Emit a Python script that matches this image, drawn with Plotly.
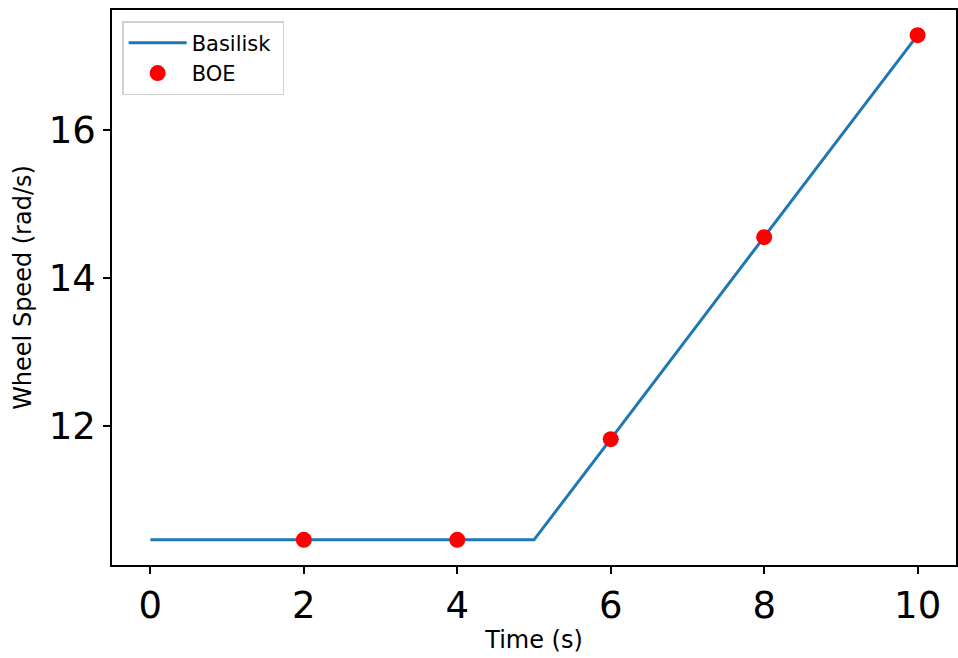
import plotly.graph_objects as go

# Data
basilisk_time = [0, 1, 2, 3, 4, 5, 6, 7, 8, 9, 10]
basilisk_speed = [10.46, 10.46, 10.46, 10.46, 10.46, 10.46, 11.82, 13.19, 14.55, 15.92, 17.28]
boe_time = [2, 4, 6, 8, 10]
boe_speed = [10.46, 10.46, 11.82, 14.55, 17.28]
x_ticks = [0, 2, 4, 6, 8, 10]
y_ticks = [12, 14, 16]

FONT = "DejaVu Sans"

fig = go.Figure()
fig.add_trace(go.Scatter(x=basilisk_time, y=basilisk_speed, mode="lines", name="Basilisk ",
                         line=dict(color="#1f77b4", width=3)))
fig.add_trace(go.Scatter(x=boe_time, y=boe_speed, mode="markers", name="BOE",
                         marker=dict(color="red", size=16, line=dict(width=0))))

fig.update_layout(
    width=958, height=658,
    margin=dict(l=112, r=0, t=10, b=93),
    paper_bgcolor="white", plot_bgcolor="white",
    font=dict(family=FONT, color="black"),
    showlegend=True,
    legend=dict(x=0.012, y=0.98, xanchor="left", yanchor="top",
                bgcolor="white", bordercolor="#d0d0d0", borderwidth=1.5,
                itemwidth=58,
                font=dict(size=21, family=FONT), tracegroupgap=0),
    xaxis=dict(range=[-0.5, 10.5], tickvals=x_ticks, ticks="outside", ticklen=7, tickwidth=1.5,
               tickcolor="black", showline=True, linecolor="black", linewidth=1.5, mirror=True,
               showgrid=False, zeroline=False, tickfont=dict(size=37, family=FONT),
               title=dict(text="Time (s)", font=dict(size=24, family=FONT), standoff=5)),
    yaxis=dict(range=[10.12, 17.62], tickvals=y_ticks, ticks="outside", ticklen=7, tickwidth=1.5,
               tickcolor="black", showline=True, linecolor="black", linewidth=1.5, mirror=True,
               showgrid=False, zeroline=False, tickfont=dict(size=37, family=FONT),
               title=dict(text="Wheel Speed (rad/s)", font=dict(size=24, family=FONT), standoff=10)),
)

fig.write_html("out.html")
